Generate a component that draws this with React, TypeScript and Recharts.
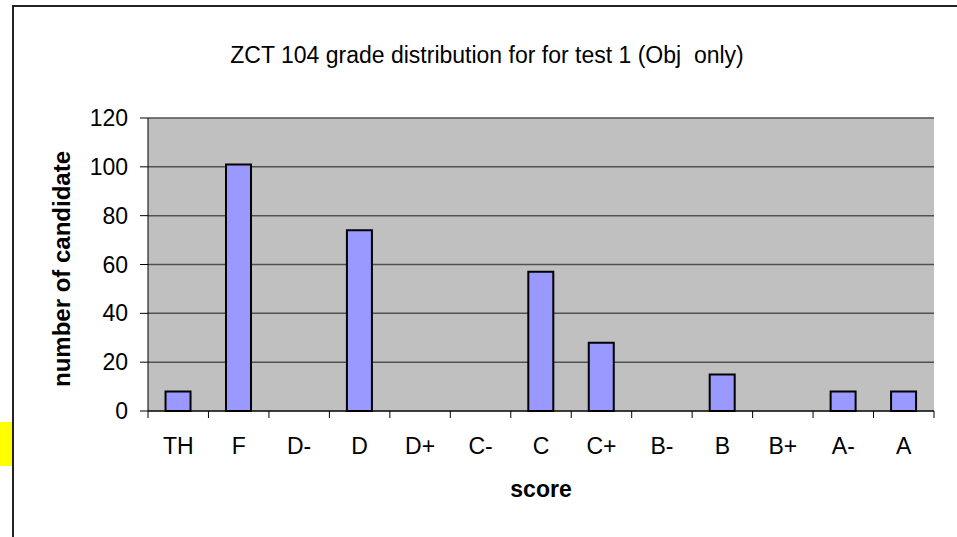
import React from "react";
import { BarChart, Bar, XAxis, YAxis, CartesianGrid } from "recharts";

const GRADES = ["TH", "F", "D-", "D", "D+", "C-", "C", "C+", "B-", "B", "B+", "A-", "A"];
const CANDIDATES = [8, 101, 0, 74, 0, 0, 57, 28, 0, 15, 0, 8, 8];
const Y_TICKS = [0, 20, 40, 60, 80, 100, 120];

const data = GRADES.map((grade, i) => ({ grade, count: CANDIDATES[i] }));

const W = 957;
const H = 537;
const FONT = "'Liberation Sans', Arial, sans-serif";
const PLOT_LEFT = 148;
const PLOT_RIGHT = 934;
const BAND = (PLOT_RIGHT - PLOT_LEFT) / GRADES.length;

function GradeTick(props: any) {
  const { x, y, payload, index } = props;
  const top = y - 7;
  return (
    <g>
      <line x1={x - BAND / 2} x2={x - BAND / 2} y1={top} y2={y} stroke="#000" />
      {index === GRADES.length - 1 && (
        <line x1={x + BAND / 2} x2={x + BAND / 2} y1={top} y2={y} stroke="#000" />
      )}
      <text x={x} y={y + 36} textAnchor="middle" fontSize={23} fontFamily={FONT} fill="#000">
        {payload.value}
      </text>
    </g>
  );
}

export default function App() {
  return (
    <div style={{ position: "absolute", left: 0, top: 0, width: W, height: H, background: "#fff", overflow: "hidden" }}>
      <div style={{ position: "absolute", left: 12, top: 5, width: W, height: H, borderTop: "2px solid #222", borderLeft: "2px solid #222" }} />
      <div style={{ position: "absolute", left: 0, top: 422, width: 12, height: 44, background: "#ffff00" }} />
      <div style={{ position: "absolute", left: 0, top: 42, width: 974, textAlign: "center", fontFamily: FONT, fontSize: 23, color: "#000" }}>
        ZCT 104 grade distribution for for test 1 (Obj&nbsp; only)
      </div>
      <div style={{ position: "absolute", left: PLOT_LEFT, top: 476, width: PLOT_RIGHT - PLOT_LEFT, textAlign: "center", fontFamily: FONT, fontSize: 23, fontWeight: "bold", color: "#000" }}>
        score
      </div>
      <div style={{ position: "absolute", left: 62 - 150, top: 269 - 14, width: 300, height: 28, lineHeight: "28px", textAlign: "center", transform: "rotate(-90deg)", fontFamily: FONT, fontSize: 24, fontWeight: "bold", color: "#000" }}>
        number of candidate
      </div>
      <div style={{ position: "absolute", left: 0, top: 0 }}>
        <BarChart width={W} height={H} data={data} margin={{ top: 118, right: W - PLOT_RIGHT, bottom: 96, left: PLOT_LEFT - 60 }} barCategoryGap="29%">
          <CartesianGrid vertical={false} stroke="#505050" strokeWidth={1.5} fill="#c0c0c0" fillOpacity={1} />
          <XAxis dataKey="grade" height={30} tickLine={false} tickSize={7} tickMargin={0} tick={<GradeTick />} axisLine={{ stroke: "#000" }} interval={0} />
          <YAxis width={60} domain={[0, 120]} ticks={Y_TICKS} tickSize={8} tickMargin={12} axisLine={{ stroke: "#000" }} tickLine={{ stroke: "#000" }} tick={{ fill: "#000", fontSize: 23, fontFamily: FONT }} />
          <YAxis yAxisId="edge" orientation="right" width={0} domain={[0, 120]} tick={false} tickLine={false} axisLine={{ stroke: "#808080", strokeWidth: 2 }} />
          <Bar dataKey="count" fill="#9999ff" stroke="#000" strokeWidth={2} isAnimationActive={false} />
        </BarChart>
      </div>
    </div>
  );
}
